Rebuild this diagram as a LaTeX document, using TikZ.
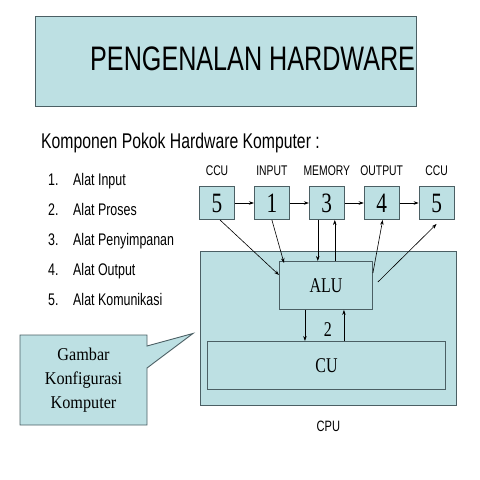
\documentclass[tikz,border=0pt]{standalone}
\usepackage{fontspec}
\setmainfont[FakeStretch=0.76]{Liberation Serif}
\newfontfamily\sansfont[FakeStretch=0.74]{Liberation Sans}
\newfontfamily\calloutfont[FakeStretch=0.9]{Liberation Serif}
\usetikzlibrary{positioning,shapes.callouts,arrows.meta,calc}
\definecolor{slidefill}{RGB}{189,224,227}
\definecolor{slideline}{RGB}{75,95,100}

\begin{document}
\begin{tikzpicture}[x=1pt,y=-1pt,
   box/.style={draw=slideline,fill=slidefill,line width=0.9pt,inner sep=0pt},
   unit/.style={box,minimum width=35pt,minimum height=33pt,font=\fontsize{28}{30}\selectfont},
   hdr/.style={inner sep=0pt,font=\sansfont\fontsize{14}{16}\selectfont},
   item/.style={inner sep=0pt,anchor=base west,font=\sansfont\fontsize{16.8}{19}\selectfont},
   link/.style={-{Stealth[length=5pt,width=3.5pt]},line width=0.6pt},
   node distance=19pt]
 \useasboundingbox (0,0) rectangle (480,480);

 \node[box,anchor=north west,minimum width=381pt,minimum height=90pt] (titlebox) at (35,16) {};
 \node[inner sep=0pt,anchor=base west,font=\sansfont\fontsize{34}{40}\selectfont] (title) at (90,70) {PENGENALAN HARDWARE};
 \node[inner sep=0pt,anchor=base west,font=\sansfont\fontsize{21.3}{24}\selectfont] (sub) at (41,148) {Komponen Pokok Hardware Komputer :};

 \foreach \i/\txt in {1/Alat Input,2/Alat Proses,3/Alat Penyimpanan,4/Alat Output,5/Alat Komunikasi}
 {\node[item] (num\i) at (48,155+30*\i) {\i.};
  \node[item] (item\i) at (73,155+30*\i) {\txt};}

 % row of units
 \node[unit] (b5a) at (217,203) {5};
 \node[unit,right=of b5a] (b1) {1};
 \node[unit,right=of b1] (b3) {3};
 \node[unit,right=of b3] (b4) {4};
 \node[unit,right=of b4] (b5b) {5};
 \node[hdr,above=10pt of b5a] (h5a) {CCU};
 \node[hdr,above=10pt of b1] (h1) {INPUT};
 \node[hdr,above=10pt of b3] (h3) {MEMORY};
 \node[hdr,above=10pt of b4] (h4) {OUTPUT};
 \node[hdr,above=10pt of b5b] (h5b) {CCU};
 \foreach \a/\b in {b5a/b1,b1/b3,b3/b4,b4/b5b}
  \draw[link] (\a) -- (\b);

 % processor
 \node[box,anchor=north west,minimum width=256pt,minimum height=154pt] (cpu) at (200,251) {};
 \node[box,anchor=north west,minimum width=93pt,minimum height=48pt,font=\fontsize{21}{24}\selectfont] (alu) at (279,261) {ALU};
 \node[box,anchor=north west,minimum width=238pt,minimum height=48pt,font=\fontsize{21}{24}\selectfont] (cu) at (207,341) {CU};
 \node[inner sep=0pt,font=\fontsize{21}{24}\selectfont] (two) at ($(alu.south)!0.5!(alu.south |- cu.north)+(2,4)$) {2};
 \node[hdr,below=15pt of cpu,font=\sansfont\fontsize{15}{18}\selectfont] (cpulbl) {CPU};

 \draw[link] ([xshift=-21pt]alu.south) -- ([xshift=-21pt]alu.south |- cu.north);
 \draw[link] ([xshift=18pt]alu.south |- cu.north) -- ([xshift=18pt]alu.south);
 \draw[link] ([xshift=3pt]b5a.south) -- ([yshift=-14pt]alu.north west);
 \draw[link] (b1.south) -- ([xshift=5pt,yshift=-2pt]alu.north west);
 \draw[link] ([xshift=-9pt]b3.south) -- ([xshift=-9pt]b3.south |- alu.north);
 \draw[link] ([xshift=8pt]b3.south |- alu.north) -- ([xshift=8pt]b3.south);
 \draw[link] ([yshift=-12pt]alu.north east) -- ([xshift=1pt]b4.south);
 \draw[link] ([xshift=5pt,yshift=-21pt]alu.north east) -- ([yshift=-4pt]b5b.south);

 \node[box,rectangle callout,minimum width=127pt,minimum height=90pt,align=center,
   callout pointer width=22pt,
   font=\calloutfont\fontsize{18}{24}\selectfont,
   callout absolute pointer={([xshift=-7pt,yshift=-5pt]cpu.west)}] (note) at (83.5,380)
   {Gambar\\Konfigurasi\\Komputer};
\end{tikzpicture}
\end{document}
